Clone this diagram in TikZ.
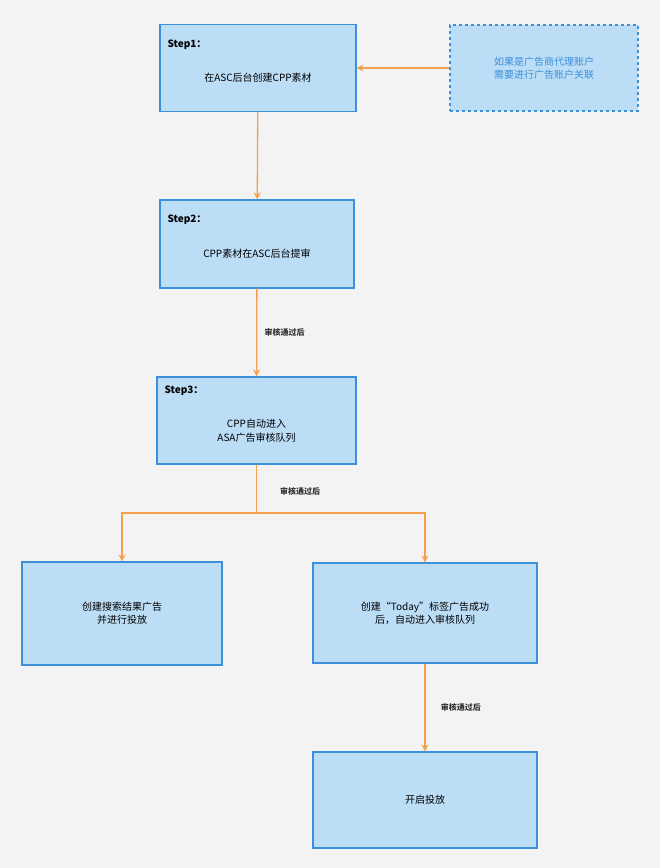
\documentclass[tikz,border=0pt]{standalone}
\usepackage{fontspec}
\setmainfont{Noto Sans CJK SC}
\usetikzlibrary{positioning,arrows.meta}
\definecolor{boxfill}{HTML}{BCDDF6}
\definecolor{boxline}{HTML}{3D8FD8}
\definecolor{flow}{HTML}{F5A04A}
\definecolor{bg}{HTML}{F3F3F3}

\begin{document}
\begin{tikzpicture}[x=1pt, y=-1pt,
    stepbox/.style={draw=boxline, fill=boxfill, line width=1.2pt, align=center,
        font=\fontsize{10}{13}\selectfont},
    notebox/.style={stepbox, dashed, text=boxline},
    steptitle/.style={anchor=north west, font=\bfseries\fontsize{10}{12}\selectfont},
    flowline/.style={draw=flow, line width=1.3pt, -{Stealth[length=7pt,width=7pt]}},
    passlabel/.style={font=\bfseries\fontsize{8}{10}\selectfont, text=black!80}]
    % Globals
    \fill[bg] (0,0) rectangle (660,868);
    \useasboundingbox (0,0) rectangle (660,868);

    \node[stepbox, minimum width=196pt, minimum height=87pt] (S1) at (258,68) {};
    \node[steptitle] (S1_T) at (164,36) {Step1：};
    \node (S1_B) at (258,78) {在ASC后台创建CPP素材};

    \node[notebox, minimum width=188pt, minimum height=86pt] (NOTE) at (544,68)
        {如果是广告商代理账户\\需要进行广告账户关联};

    \node[stepbox, minimum width=194pt, minimum height=88pt] (S2) at (257,244) {};
    \node[steptitle] (S2_T) at (164,211) {Step2：};
    \node (S2_B) at (257,254) {CPP素材在ASC后台提审};

    \node[stepbox, minimum width=199pt, minimum height=87pt] (S3) at (256.5,420.5) {};
    \node[steptitle] (S3_T) at (161,382) {Step3：};
    \node[align=center, font=\fontsize{10}{14}\selectfont] (S3_B) at (256.5,431) {CPP自动进入\\ASA广告审核队列};

    \node[stepbox, minimum width=200pt, minimum height=103pt] (SEARCH) at (122,613.5)
        {创建搜索结果广告\\并进行投放};
    \node[stepbox, minimum width=224pt, minimum height=100pt] (TODAY) at (425,613)
        {创建“Today”标签广告成功\\后，自动进入审核队列};
    \node[stepbox, minimum width=224pt, minimum height=96pt] (START) at (425,800) {开启投放};

    \coordinate (SPLIT) at (S3.south |- 0,513);

    \draw[flowline] (S1) -- (S2);
    \draw[flowline] (NOTE) -- (S1);
    \draw[flowline] (S2) -- node[passlabel, right=4pt]{审核通过后} (S3);
    \draw[draw=flow, line width=1.3pt] (S3) -- (SPLIT);
    \draw[flowline] (SPLIT) -| (SEARCH);
    \draw[flowline] (SPLIT) -| (TODAY);
    \node[passlabel] (PASS2) at (300,491) {审核通过后};
    \draw[flowline] (TODAY) -- node[passlabel, right=12pt]{审核通过后} (START);

\end{tikzpicture}
\end{document}
